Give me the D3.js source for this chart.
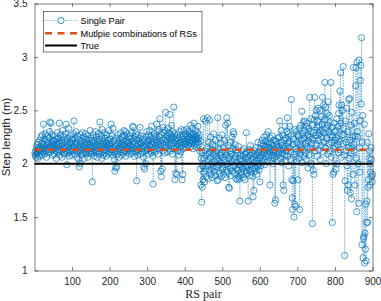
<!DOCTYPE html>
<html><head><meta charset="utf-8">
<script src="https://cdn.jsdelivr.net/npm/d3@7"></script>
<style>body{margin:0;background:#fff}svg{display:block}</style>
</head><body><svg id="c" width="381" height="301"></svg>
<script>
// Step length per RS pair in blocks of 50 pairs
const pairs1to50 = [2.10,2.08,2.12,2.06,2.15,2.09,2.18,2.11,2.05,2.14,2.20,2.13,2.07,2.22,2.16,2.10,2.25,2.12,2.19,2.08,2.27,2.15,2.11,2.37,2.18,2.09,2.23,2.14,2.28,2.12,2.17,2.06,2.21,2.26,2.13,2.19,2.10,2.24,2.15,2.30,2.39,2.16,2.11,2.38,2.20,2.13,2.27,2.08,2.18,2.22];
const pairs51to100 = [2.14,2.21,2.09,2.17,2.26,2.12,2.19,2.05,2.23,2.15,2.29,2.11,2.18,2.24,2.13,2.38,2.20,2.08,2.16,2.27,2.12,2.22,2.06,2.19,2.31,2.14,2.10,2.25,2.17,2.09,2.21,2.15,2.28,2.37,2.12,1.99,2.18,2.24,2.10,2.16,2.33,2.13,2.07,2.20,2.26,2.11,2.19,2.14,2.23,2.08];
const pairs101to150 = [2.17,2.22,2.12,2.28,2.40,2.15,2.09,2.24,2.18,2.30,2.13,2.20,2.06,2.26,2.16,2.11,2.23,2.04,1.97,2.14,2.00,2.19,2.27,2.12,2.08,2.21,2.16,2.29,2.10,2.18,2.25,2.05,2.14,2.20,2.11,2.28,2.17,2.09,2.23,2.13,2.19,2.06,2.26,2.15,2.10,2.22,2.18,2.31,2.12,2.16];
const pairs151to200 = [2.24,2.09,2.14,1.83,2.20,2.11,2.27,2.16,2.07,2.22,2.13,2.30,2.18,2.10,2.25,2.15,2.06,2.21,2.12,2.28,2.17,2.09,2.23,2.39,2.14,2.19,2.11,2.26,2.05,2.32,2.16,2.21,2.08,2.18,2.13,2.29,2.10,2.24,2.15,2.20,2.07,2.27,2.12,2.17,2.22,2.09,2.31,2.14,2.19,2.11];
const pairs201to250 = [2.23,2.16,2.10,2.37,2.19,2.13,2.26,2.08,2.33,2.15,2.21,2.11,2.04,1.93,2.17,1.96,2.12,2.24,1.97,2.18,2.09,2.27,2.14,2.20,2.06,2.23,2.16,2.11,2.29,2.13,2.19,2.08,2.25,2.15,2.22,2.10,2.17,2.31,2.12,2.26,2.18,2.30,2.07,2.21,2.14,2.28,2.11,2.19,2.16,2.24];
const pairs251to300 = [2.13,2.20,2.09,2.26,2.17,2.12,2.23,2.15,2.29,2.10,2.35,2.18,2.21,2.34,2.14,2.07,2.25,2.19,2.11,2.28,2.16,1.84,2.22,2.13,2.08,2.27,2.18,2.12,2.24,2.15,2.34,2.20,2.09,2.26,2.14,2.19,2.11,2.23,2.17,2.06,1.97,2.21,1.95,2.16,2.12,2.00,2.25,2.18,2.30,2.13];
const pairs301to350 = [2.20,2.14,2.27,2.09,2.22,2.17,2.31,2.12,2.25,2.18,2.10,2.35,2.21,2.15,2.07,1.81,2.24,2.13,2.28,2.19,2.11,2.26,2.16,2.22,2.37,2.14,2.30,2.20,2.09,2.32,2.18,2.25,2.13,2.42,2.21,1.93,2.16,1.88,2.27,1.95,2.19,2.34,2.12,2.23,2.29,2.17,2.10,2.31,2.48,2.20];
const pairs351to400 = [2.15,2.26,2.22,2.11,2.33,2.18,2.29,2.14,2.24,2.46,2.20,2.12,2.27,2.17,2.36,2.23,2.09,2.30,2.19,2.25,2.53,2.14,2.28,1.85,2.21,1.91,2.16,2.24,1.90,2.18,2.27,2.12,2.22,2.08,2.19,2.30,2.15,2.25,2.11,2.20,2.32,2.17,1.85,2.23,1.90,2.14,2.26,2.31,2.18,2.21];
const pairs401to450 = [2.24,2.19,2.28,2.15,2.32,2.21,2.26,2.17,2.23,2.30,2.18,2.25,2.20,2.29,2.36,2.16,2.22,2.27,2.19,2.33,2.24,2.14,2.21,2.28,2.38,2.17,2.25,2.22,2.31,2.19,2.26,2.15,2.23,2.29,2.35,2.20,2.24,2.18,2.27,2.12,1.95,2.21,1.80,2.05,1.64,2.10,1.78,1.98,1.85,2.42];
const pairs451to500 = [1.92,2.05,1.83,2.12,2.40,1.95,2.08,1.88,2.15,2.43,1.98,2.03,1.86,2.20,2.10,2.41,1.94,2.06,2.25,1.90,2.00,2.13,1.87,2.18,1.96,2.09,2.28,1.93,2.02,2.16,1.89,2.22,2.07,1.97,2.11,1.84,2.04,2.43,1.85,2.14,1.99,2.24,1.91,2.08,2.01,2.19,1.88,2.10,2.27,1.95];
const pairs501to550 = [2.06,1.97,2.15,1.90,2.22,2.03,1.87,2.11,2.36,1.94,2.08,2.43,2.00,2.38,1.92,2.17,1.78,2.05,1.77,2.12,1.96,2.20,1.89,2.09,2.02,2.25,1.93,2.14,2.30,1.98,2.28,2.04,1.91,2.18,2.07,1.86,2.13,1.95,2.01,1.85,2.10,1.94,2.16,1.88,1.86,2.05,1.65,1.99,2.08,1.92];
const pairs551to600 = [2.03,1.90,2.12,1.96,2.07,1.87,2.14,2.00,1.93,1.85,2.09,1.97,2.05,2.29,1.91,2.11,1.98,2.06,1.65,2.02,1.94,2.13,1.89,2.08,2.17,1.99,1.92,2.10,2.04,1.95,1.88,1.69,2.07,1.75,2.01,2.12,1.96,2.09,1.93,2.15,2.03,1.90,2.08,1.97,2.20,2.00,2.11,1.94,2.06,1.83];
const pairs601to650 = [2.05,2.14,1.98,2.19,2.08,2.22,2.01,2.12,2.17,2.04,2.25,2.10,1.99,2.16,2.21,2.07,2.13,2.27,2.02,2.18,2.09,2.30,2.15,2.06,2.20,2.11,1.80,2.24,2.03,2.14,2.19,2.08,2.26,2.12,2.00,2.17,2.22,2.05,2.13,1.63,2.10,1.66,2.21,2.07,2.18,2.15,2.03,2.24,2.11,2.16];
const pairs651to700 = [2.09,2.25,2.40,2.13,2.05,2.20,2.31,2.01,2.17,2.10,2.27,1.80,2.14,1.75,2.22,2.08,2.35,2.16,2.03,2.24,2.12,2.30,2.43,2.07,2.19,2.28,1.98,2.15,2.21,2.35,2.04,2.26,2.11,2.60,1.85,1.68,1.57,2.18,1.84,2.23,1.50,2.09,1.62,2.32,1.60,2.14,2.30,2.02,2.20,2.27];
const pairs701to750 = [2.12,1.85,2.26,2.05,2.33,1.57,2.18,2.09,2.36,2.15,2.22,2.49,2.01,2.28,2.13,2.39,2.07,2.24,2.31,2.40,2.10,2.19,2.35,2.04,2.38,2.16,2.27,1.96,2.21,2.33,2.08,2.25,2.62,2.14,2.30,2.42,2.00,2.19,2.36,1.44,2.23,1.94,2.29,1.90,2.41,2.62,2.12,2.45,2.26,2.50];
const pairs751to800 = [2.18,2.34,2.07,2.40,2.52,2.22,2.13,2.35,2.28,2.50,2.04,2.31,2.17,2.44,2.25,2.37,2.62,2.11,2.29,2.55,2.20,2.41,2.76,2.15,2.53,2.33,2.00,2.24,2.47,2.09,2.36,2.58,2.19,2.30,2.45,2.12,2.39,2.27,2.76,2.06,2.20,2.34,1.45,2.25,1.90,2.14,1.92,2.38,2.30,2.22];
const pairs801to850 = [2.16,2.31,1.95,2.24,2.42,2.00,2.18,2.35,2.10,2.47,2.55,2.21,2.68,2.13,2.85,2.38,2.06,2.55,2.27,2.50,2.19,2.91,2.33,2.27,2.08,1.14,1.84,2.40,2.12,2.20,2.52,1.98,1.75,2.30,1.80,2.15,2.60,2.05,2.61,2.22,1.73,2.36,2.10,1.67,2.48,2.15,2.25,1.90,2.90,2.18];
const pairs851to900 = [2.12,2.38,1.80,2.26,2.73,2.90,2.05,1.55,2.95,2.30,2.25,2.00,1.63,2.97,2.15,1.92,2.40,2.78,2.92,2.56,3.18,1.24,2.20,2.45,1.12,1.30,1.32,2.37,1.07,1.35,1.20,1.62,1.09,1.45,1.65,2.20,1.45,1.78,1.85,2.28,2.05,2.12,1.80,2.00,1.92,2.15,2.04,1.88,1.83,1.90];

const multipleCombinations = [2.13];
const trueStep = [2.0];
const xTicks = [100,200,300,400,500,600,700,800,900];
const yTicks = [1,1.5,2,2.5,3,3.5];
const yTickLabels = ["1","1.5","2","2.5","3","3.5"];
const legendLabels = ["Single Pair","Mutlpie combinations of RSs","True"];

const stepLength = [].concat(pairs1to50,pairs51to100,pairs101to150,pairs151to200,pairs201to250,
  pairs251to300,pairs301to350,pairs351to400,pairs401to450,pairs451to500,pairs501to550,
  pairs551to600,pairs601to650,pairs651to700,pairs701to750,pairs751to800,pairs801to850,pairs851to900);

const svg = d3.select("#c");
const L = 34.5, R = 372.5, T = 3.5, B = 270.5;
const x = d3.scaleLinear().domain([0,900]).range([L,R]);
const y = d3.scaleLinear().domain([1,3.5]).range([B,T]);
const axisColor = "#262626";
const font = "'Liberation Sans', Arial, Helvetica, sans-serif";

const plot = svg.append("g");
plot.append("rect").attr("x",L).attr("y",T).attr("width",R-L).attr("height",B-T).attr("fill","#fff");

// single pair: dotted line + circles
const line = d3.line().x((d,i)=>x(i+1)).y(d=>y(d));
plot.append("path").datum(stepLength).attr("d",line)
  .attr("fill","none").attr("stroke","#0072BD").attr("stroke-width",0.6)
  .attr("stroke-dasharray","1,1.6").attr("opacity",0.85);
plot.append("g").selectAll("circle").data(stepLength).join("circle")
  .attr("cx",(d,i)=>x(i+1)).attr("cy",d=>y(d)).attr("r",3.1)
  .attr("fill","none").attr("stroke","#0072BD").attr("stroke-width",0.7);

// multiple combinations
plot.append("line").attr("x1",L).attr("x2",R)
  .attr("y1",y(multipleCombinations[0])).attr("y2",y(multipleCombinations[0]))
  .attr("stroke","#D95319").attr("stroke-width",2.4).attr("stroke-dasharray","7,5.5");
// true
plot.append("line").attr("x1",L).attr("x2",R)
  .attr("y1",y(trueStep[0])).attr("y2",y(trueStep[0]))
  .attr("stroke","#000").attr("stroke-width",2);

// axes
function styleAxis(g){
  g.select(".domain").attr("stroke",axisColor).attr("stroke-width",0.6);
  g.selectAll(".tick line").attr("stroke",axisColor).attr("stroke-width",0.6);
  g.selectAll("text").attr("fill",axisColor).style("font-family",font).style("font-size","10px");
}
const gx = svg.append("g").attr("transform",`translate(0,${B})`)
  .call(d3.axisBottom(x).tickValues(xTicks).tickSizeInner(-3.5).tickSizeOuter(0).tickPadding(7));
styleAxis(gx);
const gxt = svg.append("g").attr("transform",`translate(0,${T})`)
  .call(d3.axisTop(x).tickValues(xTicks).tickSizeInner(-3.5).tickSizeOuter(0).tickFormat(""));
styleAxis(gxt);
const gy = svg.append("g").attr("transform",`translate(${L},0)`)
  .call(d3.axisLeft(y).tickValues(yTicks).tickSizeInner(-3.5).tickSizeOuter(0).tickPadding(7)
    .tickFormat((d,i)=>yTickLabels[i]));
styleAxis(gy);
const gyr = svg.append("g").attr("transform",`translate(${R},0)`)
  .call(d3.axisRight(y).tickValues(yTicks).tickSizeInner(-3.5).tickSizeOuter(0).tickFormat(""));
styleAxis(gyr);

// axis labels
svg.append("text").attr("x",(L+R)/2).attr("y",297.5).attr("text-anchor","middle")
  .style("font-family","'Liberation Serif','Times New Roman',serif").style("font-size","12px")
  .attr("fill",axisColor).text("RS pair");
svg.append("text").attr("transform",`translate(10,${(T+B)/2}) rotate(-90)`).attr("text-anchor","middle")
  .style("font-family",font).style("font-size","11.5px").attr("fill",axisColor).text("Step length (m)");

// legend
const lg = svg.append("g");
lg.append("rect").attr("x",43.5).attr("y",11.5).attr("width",158.5).attr("height",40.5)
  .attr("fill","#fff").attr("stroke",axisColor).attr("stroke-width",0.6);
const rowsY = [20.5,33.2,45.5];
const sx1 = 45, sx2 = 77;
lg.append("line").attr("x1",sx1).attr("x2",sx2).attr("y1",rowsY[0]).attr("y2",rowsY[0])
  .attr("stroke","#0072BD").attr("stroke-width",0.6).attr("stroke-dasharray","1,1.6");
lg.append("circle").attr("cx",(sx1+sx2)/2).attr("cy",rowsY[0]).attr("r",3.1)
  .attr("fill","#fff").attr("stroke","#0072BD").attr("stroke-width",0.8);
lg.append("line").attr("x1",sx1).attr("x2",sx2).attr("y1",rowsY[1]).attr("y2",rowsY[1])
  .attr("stroke","#D95319").attr("stroke-width",2.4).attr("stroke-dasharray","7,5.5");
lg.append("line").attr("x1",sx1).attr("x2",sx2).attr("y1",rowsY[2]).attr("y2",rowsY[2])
  .attr("stroke","#000").attr("stroke-width",2);
lg.selectAll("text.lab").data(legendLabels).join("text").attr("class","lab")
  .attr("x",80.5).attr("y",(d,i)=>rowsY[i]+3.3)
  .style("font-family",font).style("font-size","9.2px").attr("fill","#000").text(d=>d);
</script></body></html>
